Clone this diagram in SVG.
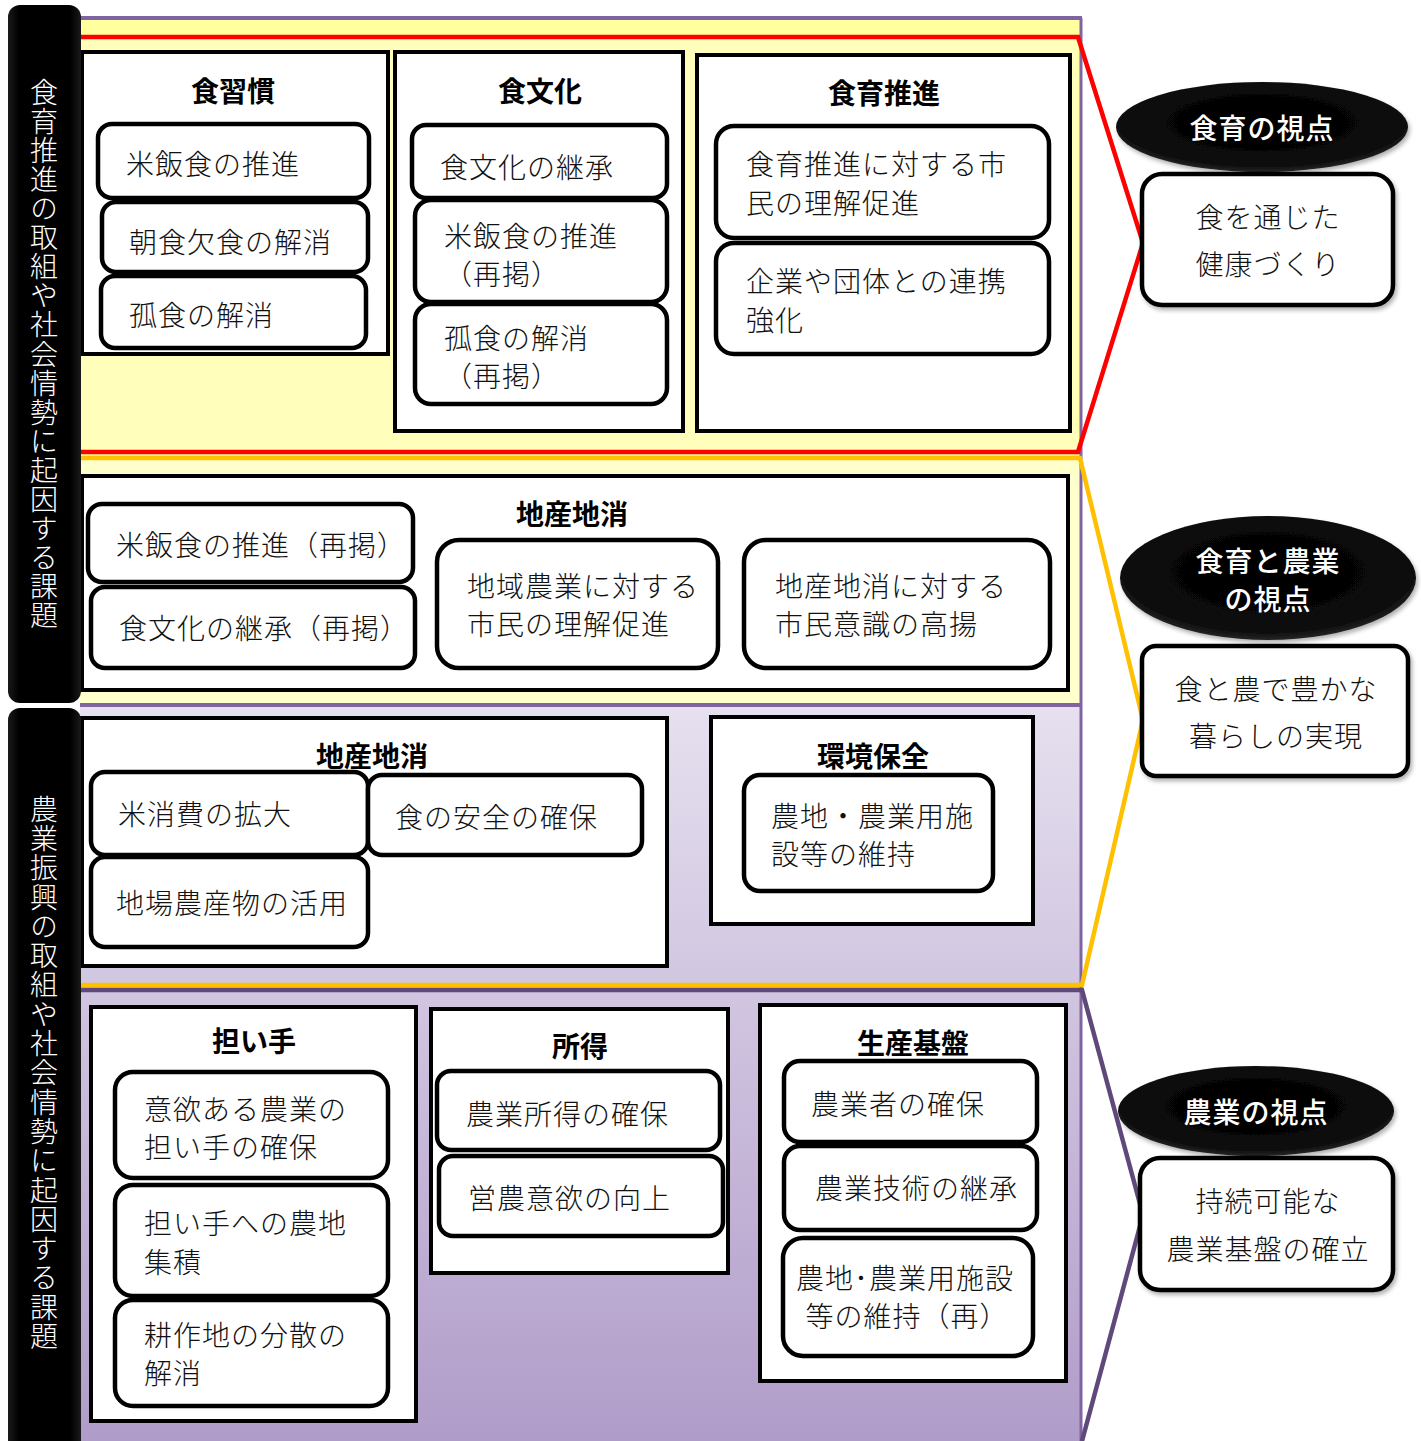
<svg xmlns="http://www.w3.org/2000/svg" width="1421" height="1441" viewBox="0 0 1421 1441">
<defs>
<linearGradient id="lav" x1="0" y1="705" x2="0" y2="1441" gradientUnits="userSpaceOnUse">
<stop offset="0" stop-color="#E6E0EF"/>
<stop offset="1" stop-color="#B09CC9"/>
</linearGradient>
<radialGradient id="ell" cx="0.5" cy="0.45" r="0.6">
<stop offset="0" stop-color="#000"/>
<stop offset="0.8" stop-color="#0a0a0a"/>
<stop offset="1" stop-color="#3a3a3a"/>
</radialGradient>
<linearGradient id="bar" x1="0" y1="0" x2="1" y2="0">
<stop offset="0" stop-color="#1a1a1a"/>
<stop offset="0.15" stop-color="#000"/>
<stop offset="0.85" stop-color="#000"/>
<stop offset="1" stop-color="#1a1a1a"/>
</linearGradient>
<filter id="sh" x="-10%" y="-10%" width="130%" height="140%">
<feDropShadow dx="2" dy="3" stdDeviation="2" flood-color="#000" flood-opacity="0.3"/>
</filter>
<style>
.cont{fill:#fff;stroke:#000;stroke-width:4}
.item{fill:#fff;stroke:#000;stroke-width:4.5}
.t{font-family:"Noto Sans CJK JP","Noto Sans CJK SC",sans-serif;font-size:28px;fill:#111;dominant-baseline:central;letter-spacing:1px;font-weight:300}
.h{font-family:"Noto Sans CJK JP","Noto Sans CJK SC",sans-serif;font-size:28px;font-weight:700;fill:#000;text-anchor:middle;dominant-baseline:central}
.w{font-family:"Noto Sans CJK JP","Noto Sans CJK SC",sans-serif;font-size:28px;font-weight:500;fill:#fff;text-anchor:middle;dominant-baseline:central;letter-spacing:1px}
.v{font-family:"Noto Sans CJK JP","Noto Sans CJK SC",sans-serif;font-size:28px;font-weight:300;fill:#fff;writing-mode:vertical-rl}
.m{text-anchor:middle}
</style>
</defs>

<!-- backgrounds -->
<g id="background">
<rect x="80" y="18" width="1002" height="687" fill="#FFFF9E"/>
<rect x="80" y="37" width="998" height="415" fill="#FFFFBB"/>
<rect x="80" y="458" width="1002" height="247" fill="#FFFFCC"/>
<rect x="80" y="705" width="1002" height="740" fill="url(#lav)"/>
<line x1="80" y1="18" x2="1082" y2="18" stroke="#8064A2" stroke-width="4"/>
<line x1="80" y1="705" x2="1082" y2="705" stroke="#8064A2" stroke-width="4"/>
<line x1="1081" y1="18" x2="1081" y2="1441" stroke="#8064A2" stroke-width="3"/>
</g>

<!-- connectors / brackets -->
<g id="connectors" fill="none" stroke-linejoin="miter">
<polyline points="80,37 1078,37 1143,243 1078,452 80,452" stroke="#FF0000" stroke-width="4.5"/>
<polyline points="80,458 1080,458 1143,720 1082,985 80,985" stroke="#FFC000" stroke-width="4.5"/>
<polyline points="80,990 1082,990 1143,1215 1082,1441" stroke="#5F497A" stroke-width="4.5"/>
</g>

<!-- section 1 -->
<g id="shokushukan">
<rect class="cont" x="82" y="52" width="306" height="302"/>
<text class="h" x="233" y="90">食習慣</text>
<g id="s1a"><rect class="item" x="98" y="124" width="271" height="74" rx="14"/><text class="t" x="126" y="163">米飯食の推進</text></g>
<g id="s1b"><rect class="item" x="102" y="202" width="266" height="70" rx="14"/><text class="t" x="129" y="241">朝食欠食の解消</text></g>
<g id="s1c"><rect class="item" x="101" y="276" width="265" height="72" rx="14"/><text class="t" x="129" y="314">孤食の解消</text></g>
</g>

<g id="shokubunka">
<rect class="cont" x="395" y="52" width="288" height="379"/>
<text class="h" x="540" y="90">食文化</text>
<g id="s2a"><rect class="item" x="412" y="125" width="255" height="73" rx="14"/><text class="t" x="440" y="166">食文化の継承</text></g>
<g id="s2b"><rect class="item" x="415" y="200" width="252" height="102" rx="16"/><text class="t" x="444" y="235">米飯食の推進</text><text class="t" x="444" y="273">（再掲）</text></g>
<g id="s2c"><rect class="item" x="415" y="304" width="252" height="100" rx="16"/><text class="t" x="444" y="337">孤食の解消</text><text class="t" x="444" y="375">（再掲）</text></g>
</g>

<g id="shokuikusuishin">
<rect class="cont" x="697" y="55" width="373" height="376"/>
<text class="h" x="884" y="92">食育推進</text>
<g id="s3a"><rect class="item" x="716" y="126" width="333" height="112" rx="18"/><text class="t" x="746" y="163">食育推進に対する市</text><text class="t" x="746" y="202">民の理解促進</text></g>
<g id="s3b"><rect class="item" x="716" y="243" width="333" height="111" rx="18"/><text class="t" x="746" y="280">企業や団体との連携</text><text class="t" x="746" y="319">強化</text></g>
</g>

<!-- section 2 -->
<g id="chisanchisho1">
<rect class="cont" x="82" y="476" width="986" height="214"/>
<text class="h" x="572" y="513">地産地消</text>
<g id="s4a"><rect class="item" x="88" y="504" width="325" height="78" rx="14"/><text class="t" x="116" y="544">米飯食の推進（再掲）</text></g>
<g id="s4b"><rect class="item" x="91" y="587" width="324" height="81" rx="14"/><text class="t" x="119" y="627">食文化の継承（再掲）</text></g>
<g id="s4c"><rect class="item" x="437" y="540" width="281" height="128" rx="22"/><text class="t" x="467" y="585">地域農業に対する</text><text class="t" x="467" y="623">市民の理解促進</text></g>
<g id="s4d"><rect class="item" x="744" y="540" width="306" height="128" rx="22"/><text class="t" x="775" y="585">地産地消に対する</text><text class="t" x="775" y="623">市民意識の高揚</text></g>
</g>

<!-- section 3 -->
<g id="chisanchisho2">
<rect class="cont" x="82" y="718" width="585" height="248"/>
<text class="h" x="372" y="755">地産地消</text>
<g id="s5a"><rect class="item" x="91" y="772" width="277" height="83" rx="14"/><text class="t" x="118" y="813">米消費の拡大</text></g>
<g id="s5b"><rect class="item" x="368" y="775" width="274" height="80" rx="14"/><text class="t" x="395" y="816">食の安全の確保</text></g>
<g id="s5c"><rect class="item" x="91" y="857" width="277" height="90" rx="14"/><text class="t" x="116" y="902">地場農産物の活用</text></g>
</g>

<g id="kankyohozen">
<rect class="cont" x="711" y="717" width="322" height="207"/>
<text class="h" x="873" y="755">環境保全</text>
<g id="s6a"><rect class="item" x="744" y="775" width="249" height="116" rx="16"/><text class="t" x="771" y="815">農地・農業用施</text><text class="t" x="771" y="853">設等の維持</text></g>
</g>

<!-- section 4 -->
<g id="ninaite">
<rect class="cont" x="91" y="1007" width="325" height="414"/>
<text class="h" x="254" y="1040">担い手</text>
<g id="s7a"><rect class="item" x="115" y="1072" width="273" height="106" rx="18"/><text class="t" x="144" y="1108">意欲ある農業の</text><text class="t" x="144" y="1146">担い手の確保</text></g>
<g id="s7b"><rect class="item" x="115" y="1185" width="273" height="111" rx="18"/><text class="t" x="144" y="1222">担い手への農地</text><text class="t" x="144" y="1261">集積</text></g>
<g id="s7c"><rect class="item" x="115" y="1300" width="273" height="106" rx="18"/><text class="t" x="144" y="1334">耕作地の分散の</text><text class="t" x="144" y="1372">解消</text></g>
</g>

<g id="shotoku">
<rect class="cont" x="431" y="1009" width="297" height="264"/>
<text class="h" x="580" y="1045">所得</text>
<g id="s8a"><rect class="item" x="437" y="1071" width="283" height="79" rx="14"/><text class="t" x="466" y="1113">農業所得の確保</text></g>
<g id="s8b"><rect class="item" x="439" y="1156" width="284" height="80" rx="14"/><text class="t" x="468" y="1197">営農意欲の向上</text></g>
</g>

<g id="seisankiban">
<rect class="cont" x="760" y="1005" width="306" height="376"/>
<text class="h" x="913" y="1042">生産基盤</text>
<g id="s9a"><rect class="item" x="784" y="1061" width="253" height="81" rx="16"/><text class="t" x="811" y="1103">農業者の確保</text></g>
<g id="s9b"><rect class="item" x="784" y="1146" width="253" height="84" rx="16"/><text class="t" x="815" y="1187">農業技術の継承</text></g>
<g id="s9c"><rect class="item" x="783" y="1238" width="250" height="118" rx="20"/><text class="t m" x="905" y="1277">農地･農業用施設</text><text class="t m" x="907" y="1315">等の維持（再）</text></g>
</g>

<!-- left bars -->
<g id="bar1">
<rect x="8" y="5" width="73" height="698" rx="12" fill="url(#bar)"/>
<text class="v" x="44" y="78" letter-spacing="1.1">食育推進の取組や社会情勢に起因する課題</text>
</g>
<g id="bar2">
<rect x="8" y="708" width="73" height="745" rx="12" fill="url(#bar)"/>
<text class="v" x="44" y="795" letter-spacing="1.3">農業振興の取組や社会情勢に起因する課題</text>
</g>

<!-- right viewpoints -->
<g id="view1">
<ellipse cx="1262" cy="127" rx="146" ry="45" fill="url(#ell)" filter="url(#sh)"/>
<text class="w" x="1262" y="127">食育の視点</text>
</g>
<g id="goal1">
<rect class="item" x="1142" y="174" width="251" height="131" rx="20" filter="url(#sh)"/>
<text class="t m" x="1268" y="216" letter-spacing="3">食を通じた</text>
<text class="t m" x="1268" y="263" letter-spacing="3">健康づくり</text>
</g>
<g id="view2">
<ellipse cx="1268" cy="578" rx="148" ry="62" fill="url(#ell)" filter="url(#sh)"/>
<text class="w" x="1268" y="560">食育と農業</text>
<text class="w" x="1268" y="598">の視点</text>
</g>
<g id="goal2">
<rect class="item" x="1142" y="646" width="266" height="130" rx="14" filter="url(#sh)"/>
<text class="t m" x="1276" y="688">食と農で豊かな</text>
<text class="t m" x="1276" y="735">暮らしの実現</text>
</g>
<g id="view3">
<ellipse cx="1256" cy="1111" rx="138" ry="45" fill="url(#ell)" filter="url(#sh)"/>
<text class="w" x="1256" y="1111">農業の視点</text>
</g>
<g id="goal3">
<rect class="item" x="1140" y="1158" width="253" height="132" rx="20" filter="url(#sh)"/>
<text class="t m" x="1268" y="1200">持続可能な</text>
<text class="t m" x="1268" y="1248">農業基盤の確立</text>
</g>
</svg>
